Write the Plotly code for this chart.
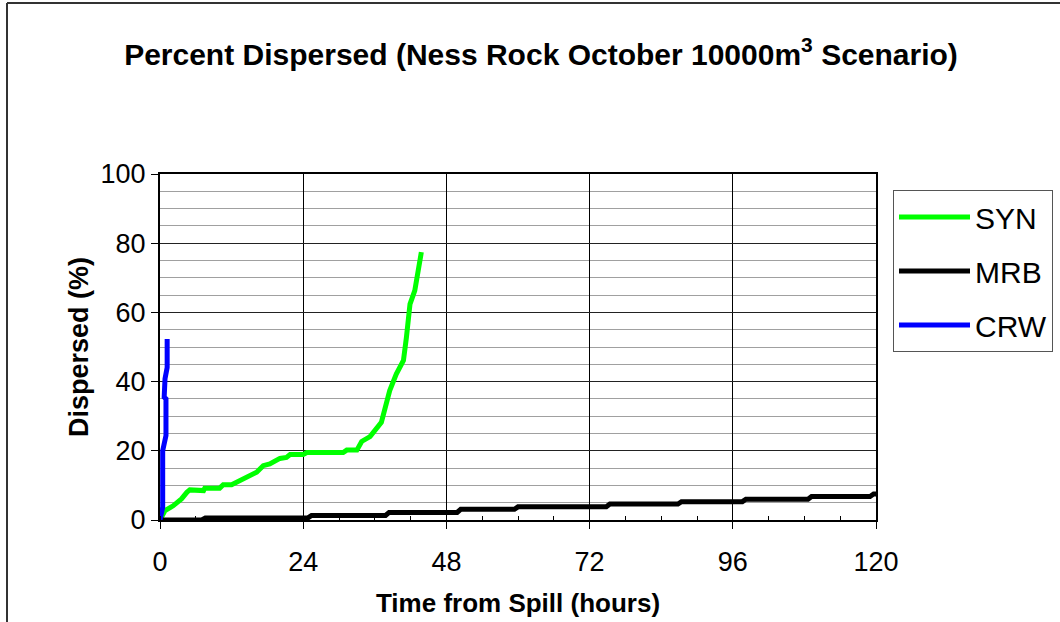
import plotly.graph_objects as go

# ---- data ----
series_names = ["SYN", "MRB", "CRW"]
series_colors = ["#00FF00", "#000000", "#0000FF"]

syn_hours = [0, 0.84, 2.2, 3.6, 4.5, 5.0, 7.3, 7.5, 10.0, 10.6, 12.0, 14.0, 16.2, 17.3,
             18.4, 20.1, 21.2, 21.8, 24.0, 24.6, 30.7, 31.3, 33.0, 33.8, 35.2, 37.1,
             38.5, 39.6, 40.8, 41.3, 41.9, 42.7, 43.4, 43.8]
syn_pct = [0, 2.7, 4.1, 6.1, 8.0, 8.7, 8.5, 9.2, 9.2, 10.2, 10.2, 11.8, 13.8, 15.7,
           16.2, 17.8, 18.1, 18.9, 18.9, 19.5, 19.5, 20.2, 20.2, 22.7, 24.1, 28.2,
           37.4, 42.2, 46.1, 52.8, 62.4, 66.3, 74.5, 77.4]

mrb_hours = [0, 7.0, 7.6, 24.8, 25.4, 37.8, 38.4, 49.8, 50.4, 59.4, 60.0, 74.8, 75.4,
             86.8, 87.4, 97.6, 98.2, 108.6, 109.2, 119.0, 119.6, 120]
mrb_pct = [0, 0, 0.6, 0.6, 1.3, 1.3, 2.2, 2.2, 3.1, 3.1, 3.8, 3.8, 4.6,
           4.6, 5.3, 5.3, 6.0, 6.0, 6.8, 6.8, 7.5, 7.5]

crw_hours = [0, 0.45, 0.45, 1.0, 1.0, 0.7, 0.84, 1.2, 1.2]
crw_pct = [0, 3.7, 20.0, 24.4, 35.0, 35.5, 40.8, 44.1, 52.3]

x_ticks = [0, 24, 48, 72, 96, 120]
y_ticks = [0, 20, 40, 60, 80, 100]

title_text = "Percent Dispersed (Ness Rock October 10000m<sup>3</sup> Scenario)"
x_title = "Time from Spill (hours)"
y_title = "Dispersed (%)"

FONT = "Liberation Sans, Arial, sans-serif"

fig = go.Figure()
for name, color, xs, ys in zip(series_names, series_colors,
                               [syn_hours, mrb_hours, crw_hours],
                               [syn_pct, mrb_pct, crw_pct]):
    fig.add_trace(go.Scatter(x=xs, y=ys, mode="lines", name=name, legendgroup=name,
                             line=dict(color=color, width=5)))

# plot area in pixels: x 160..876, y 174..520
L, R, T, B = 160, 876, 174, 520
W, H = 1060, 622
pw, ph = R - L, B - T

def px_x(p):
    return (p - L) / pw

def px_y(p):
    return (B - p) / ph

fig.update_layout(
    width=W, height=H,
    margin=dict(l=L, r=W - R, t=T, b=H - B, pad=0, autoexpand=False),
    paper_bgcolor="white", plot_bgcolor="white",
    font=dict(family=FONT, color="black", size=26),
    title=dict(text=title_text, x=541 / W, xref="container", xanchor="center",
               y=1 - 54 / H, yref="container", yanchor="middle",
               font=dict(family=FONT, size=30, weight="bold", color="black")),
    showlegend=True,
    legend=dict(x=px_x(893), y=px_y(190), xanchor="left", yanchor="top",
                bordercolor="#555555", borderwidth=1, bgcolor="white",
                font=dict(family=FONT, size=30, color="black"),
                tracegroupgap=12, itemwidth=71),
    xaxis=dict(range=[0, 120], tickvals=x_ticks, ticks="outside", ticklen=7,
               tickcolor="black", tickwidth=1, ticklabelstandoff=10,
               showline=True, linecolor="black", linewidth=2, mirror=True,
               showgrid=True, gridcolor="black", gridwidth=1, zeroline=False,
               tickfont=dict(size=27), automargin=False,
               minor=dict(dtick=6, ticks="inside", ticklen=4, tickcolor="black",
                          showgrid=False),
               title=dict(text=x_title, standoff=17,
                          font=dict(size=26, weight="bold"))),
    yaxis=dict(range=[0, 100], tickvals=y_ticks, ticks="outside", ticklen=7,
               tickcolor="black", tickwidth=1, automargin=False,
               showline=True, linecolor="black", linewidth=2, mirror=True,
               showgrid=True, gridcolor="#222222", gridwidth=1, zeroline=False,
               tickfont=dict(size=27),
               minor=dict(dtick=5, showgrid=True, gridcolor="#a0a0a0",
                          gridwidth=1, ticks=""),
               title=dict(text=y_title, standoff=4,
                          font=dict(size=27, weight="bold"))),
    shapes=[
        dict(type="line", xref="paper", yref="paper",
             x0=px_x(7), x1=px_x(7), y0=px_y(640), y1=px_y(3),
             line=dict(color="#333333", width=2)),
        dict(type="line", xref="paper", yref="paper",
             x0=px_x(7), x1=px_x(1080), y0=px_y(3), y1=px_y(3),
             line=dict(color="#333333", width=2)),
    ],
)

fig.write_html("out.html",
               config={"displayModeBar": False},
               post_script="document.body.style.margin='0';"
                           "document.body.style.padding='0';")
